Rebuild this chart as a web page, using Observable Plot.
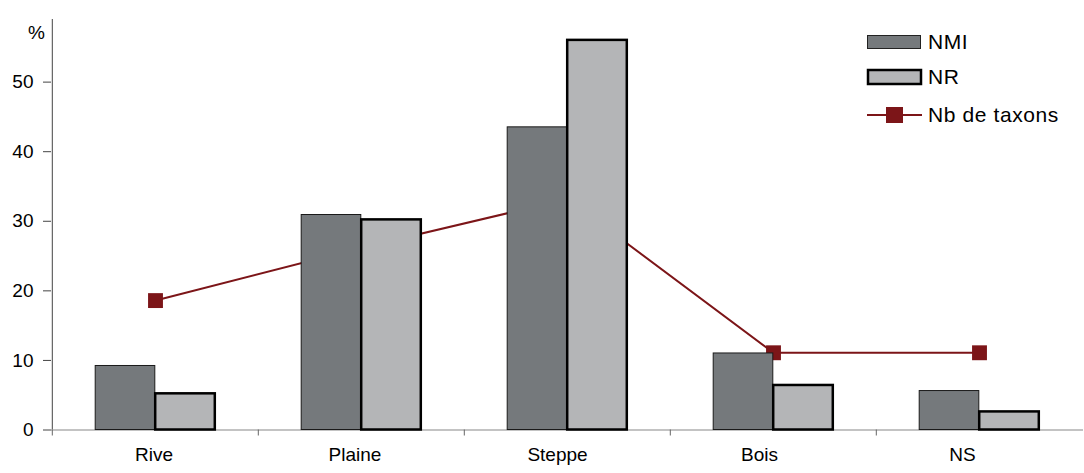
<!DOCTYPE html>
<html>
<head>
<meta charset="utf-8">
<script src="https://cdn.jsdelivr.net/npm/d3@7"></script>
<script src="https://cdn.jsdelivr.net/npm/@observablehq/plot@0.6"></script>
<style>
  html, body { margin: 0; padding: 0; background: #fff; }
  #wrap { position: relative; width: 1084px; height: 473px; font-family: "Liberation Sans", Arial, sans-serif; }
  #legend { position: absolute; left: 866px; top: 30px; }
  .item { position: absolute; left: 0; display: flex; align-items: center; white-space: nowrap; font-size: 21px; color: #000; }
  .item span { margin-left: 4px; letter-spacing: 0.6px; }
</style>
</head>
<body>
<div id="wrap">
  <div id="chart"></div>
  <div id="legend"></div>
</div>
<script>
const categories = ["Rive", "Plaine", "Steppe", "Bois", "NS"];
const nmi = [9.2, 30.9, 43.5, 11.0, 5.6];
const nr = [5.2, 30.2, 56.0, 6.4, 2.6];
const taxa = [18.6, 26.2, 33.2, 11.1, 11.1];
const seriesNames = ["NMI", "NR", "Nb de taxons"];
const yTicks = [0, 10, 20, 30, 40, 50];

const W = 1084, H = 473;
const mL = 51, mR = 1, mT = 19, mB = 43.5;
const band = (W - mL - mR) / categories.length;
const half = band / 2;
const barW = 60;
// small horizontal label shifts seen in the original rendering
const labelShift = [-1.5, -6.6, -10, -14, -17];

const nmiData = categories.map((c, i) => ({cat: c, v: nmi[i]}));
const nrData = categories.map((c, i) => ({cat: c, v: nr[i]}));
const taxaData = categories.map((c, i) => ({cat: c, v: taxa[i]}));

const colNMI = "#75797c", colNR = "#b4b5b7", colLine = "#7c1518";
const font = "Liberation Sans, Arial, sans-serif";

const chart = Plot.plot({
  width: W, height: H,
  marginLeft: mL, marginRight: mR, marginTop: mT, marginBottom: mB,
  style: {fontFamily: font, background: "#fff", overflow: "visible"},
  x: {domain: categories, padding: 0, axis: null},
  y: {domain: [0, 59], axis: null},
  marks: [
    // y axis
    Plot.axisY({ticks: yTicks, tickSize: 8, tickFormat: () => "", label: null, stroke: "#444"}),
    Plot.text(yTicks, {y: d => d, text: d => String(d), frameAnchor: "left", dx: -18, textAnchor: "end", fontSize: 19, fill: "#000"}),
    Plot.ruleX([categories[0]], {x: d => d, dx: -half, y1: 0, y2: 59, stroke: "#444", strokeWidth: 1}),
    // x axis line + boundary ticks + labels
    Plot.ruleY([0], {stroke: "#888", strokeWidth: 1.2}),
    Plot.axisX({tickSize: 6, tickFormat: () => "", dx: -half, stroke: "#666", label: null}),
    ...categories.map((c, i) => Plot.text([c], {x: d => d, text: d => d, frameAnchor: "bottom", dy: 31, dx: labelShift[i], fontSize: 19, fill: "#000"})),
    // taxa line behind bars
    Plot.line(taxaData, {x: "cat", y: "v", stroke: colLine, strokeWidth: 2}),
    Plot.dot(taxaData, {x: "cat", y: "v", symbol: "square", r: 8.4, fill: colLine, stroke: "none"}),
    // bars
    Plot.barY(nmiData, {x: "cat", y: "v", fill: colNMI, stroke: "#1a1a1a", strokeWidth: 1, insetLeft: half - barW, insetRight: half}),
    Plot.barY(nrData, {x: "cat", y: "v", fill: colNR, stroke: "#000", strokeWidth: 2.5, insetLeft: half, insetRight: half - barW}),
    // % label
    Plot.text(["%"], {frameAnchor: "top-left", dx: -15, dy: 6, fontSize: 19, textAnchor: "middle", fill: "#000"})
  ]
});
document.getElementById("chart").appendChild(chart);

// legend
const legend = document.getElementById("legend");
function addItem(top, swatchSvg, label) {
  const div = document.createElement("div");
  div.className = "item";
  div.style.top = top + "px";
  div.innerHTML = swatchSvg + "<span>" + label + "</span>";
  legend.appendChild(div);
}
addItem(0, `<svg width="58" height="18"><rect x="1.5" y="2.5" width="53" height="13" fill="${colNMI}" stroke="#222" stroke-width="1"/></svg>`, seriesNames[0]);
addItem(35, `<svg width="58" height="18"><rect x="2" y="2" width="53" height="14" fill="${colNR}" stroke="#000" stroke-width="2.5"/></svg>`, seriesNames[1]);
addItem(73, `<svg width="58" height="18"><line x1="1" x2="56" y1="9" y2="9" stroke="${colLine}" stroke-width="2"/><rect x="20" y="1" width="17" height="16" fill="${colLine}"/></svg>`, seriesNames[2]);
</script>
</body>
</html>
